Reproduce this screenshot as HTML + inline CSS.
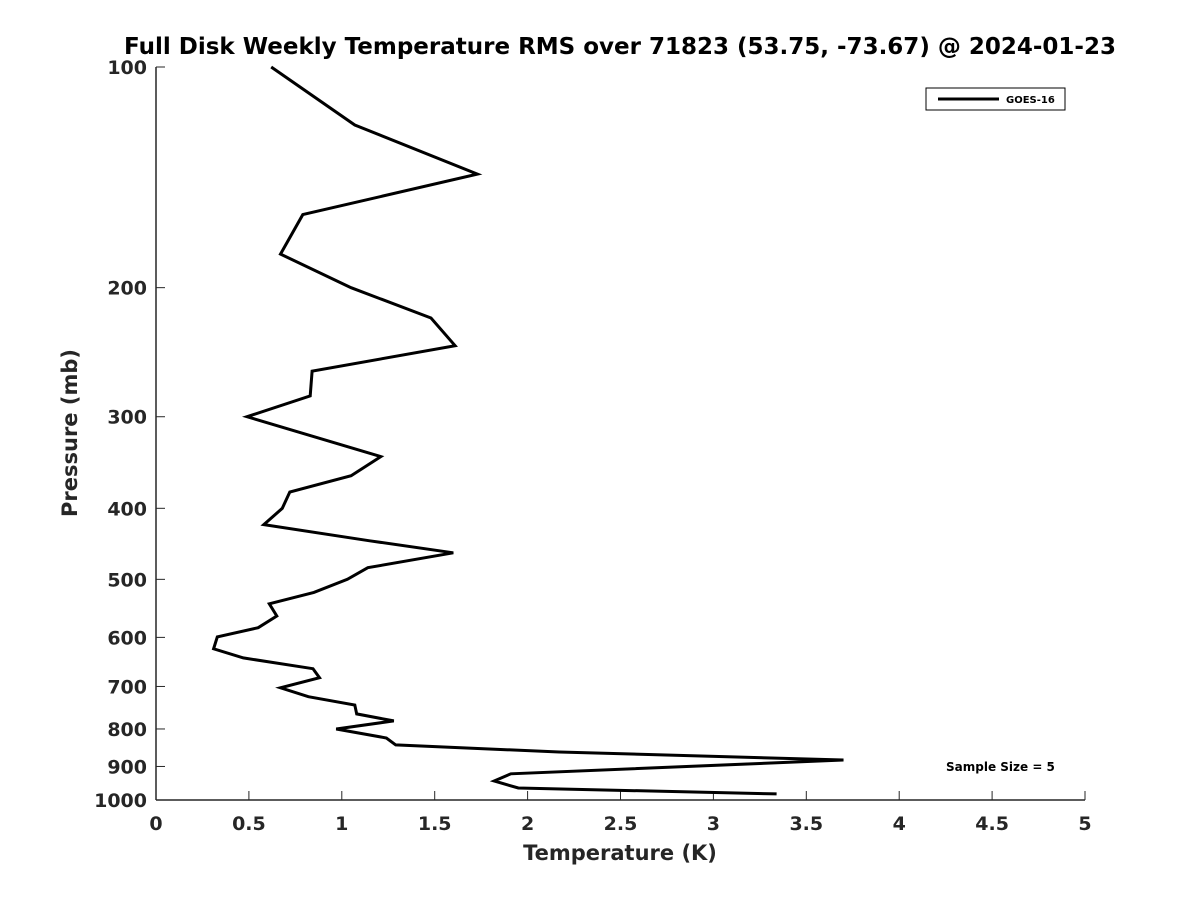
<!DOCTYPE html>
<html><head><meta charset="utf-8"><style>
body{margin:0;background:#fff}
svg{display:block;font-family:"DejaVu Sans","Liberation Sans",sans-serif;font-weight:bold}
</style></head><body>
<svg width="1200" height="900" id="c">
<text x="620" y="54" text-anchor="middle" font-size="23" fill="#000">Full Disk Weekly Temperature RMS over 71823 (53.75, -73.67) @ 2024-01-23</text>
<g id="axes"></g>
<polyline id="line" fill="none" stroke="#000" stroke-width="3" stroke-linejoin="miter"/>
<text x="620" y="860" text-anchor="middle" font-size="21" fill="#262626">Temperature (K)</text>
<text transform="translate(77,433) rotate(-90)" text-anchor="middle" font-size="21" fill="#262626">Pressure (mb)</text>
<g>
<rect x="926" y="88" width="139" height="22" fill="#fff" stroke="#000" stroke-width="1"/>
<line x1="938" y1="99" x2="999" y2="99" stroke="#000" stroke-width="3"/>
<text x="1006" y="103" font-size="10" fill="#000">GOES-16</text>
</g>
<text x="946" y="771" font-size="12" fill="#000">Sample Size = 5</text>
</svg>
<script>
const temps=[0.62,1.07,1.73,0.79,0.67,1.05,1.48,1.61,0.84,0.83,0.49,1.21,1.05,0.72,0.68,0.58,1.15,1.60,1.14,1.03,0.85,0.61,0.65,0.55,0.33,0.31,0.47,0.845,0.88,0.67,0.82,1.07,1.08,1.28,0.97,1.24,1.29,2.17,3.70,1.91,1.82,1.95,3.34];
const pressures=[100,120,140,159,180,200,220,240,260,281,300,340,361,380,400,421,443,460,482,500,521,540,561,582,599,622,640,662,681,703,723,742,763,780,800,823,841,860,882,921,942,963,981];
const xTicks=[0,0.5,1,1.5,2,2.5,3,3.5,4,4.5,5];
const yTicks=[100,200,300,400,500,600,700,800,900,1000];
const X0=156,X1=1085,Y0=67,Y1=800;
function xs(t){return X0+(t-0)/(5-0)*(X1-X0);}
function ys(p){return Y0+(Math.log10(p)-2)/(3-2)*(Y1-Y0);}
const ns="http://www.w3.org/2000/svg";
const ax=document.getElementById('axes');
function mk(tag,attrs){const e=document.createElementNS(ns,tag);for(const k in attrs)e.setAttribute(k,attrs[k]);ax.appendChild(e);return e;}
const xa=mk('line',{x1:X0,y1:Y1,x2:X1,y2:Y1,stroke:'#262626','stroke-width':1.5});


const ya=mk('line',{x1:X0,y1:Y0,x2:X0,y2:Y1,stroke:'#262626','stroke-width':1.5});


xTicks.forEach(t=>{
 const x=xs(t);
 const tk=mk('line',{x1:x,y1:Y1,x2:x,y2:Y1-9,stroke:'#262626','stroke-width':1});
 
 
 const tx=mk('text',{x:x,y:Y1+30,'text-anchor':'middle','font-size':19,fill:'#262626'});
 tx.textContent=String(t);
 
 
});
yTicks.forEach(p=>{
 const y=ys(p);
 const tk=mk('line',{x1:X0,y1:y,x2:X0+9,y2:y,stroke:'#262626','stroke-width':1});
 
 
 const tx=mk('text',{x:X0-9,y:y+7,'text-anchor':'end','font-size':19,fill:'#262626'});
 tx.textContent=String(p);
 
 
});
document.getElementById('line').setAttribute('points',temps.map((t,i)=>xs(t).toFixed(1)+','+ys(pressures[i]).toFixed(1)).join(' '));
</script>
</body></html>
